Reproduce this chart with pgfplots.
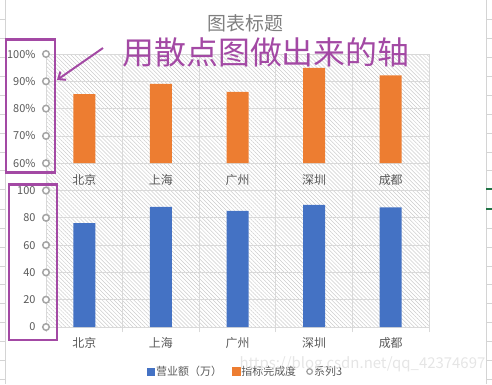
\documentclass[border=0pt]{standalone}
\usepackage{pgfplots}
\pgfplotsset{compat=1.18}
\usepackage{fontspec}
\setmainfont{Noto Sans CJK SC}
\usetikzlibrary{patterns.meta,arrows.meta}
\definecolor{barblue}{HTML}{4472C4}
\definecolor{barorange}{HTML}{ED7D31}
\definecolor{markgray}{HTML}{A5A5A5}
\definecolor{txtgray}{HTML}{595959}
\definecolor{gridgray}{HTML}{D9D9D9}
\definecolor{purp}{HTML}{A349A4}
\definecolor{titlegray}{HTML}{7F7F7F}
\definecolor{cellgray}{HTML}{D4D4D4}
\definecolor{xlgreen}{HTML}{217346}
\begin{document}
\begin{tikzpicture}[x=1bp,y=1bp]
\path[use as bounding box] (0,0) rectangle (492,-384);
% spreadsheet cell borders
\draw[cellgray, line width=0.8bp] (486,0) -- (486,-384);
\draw[cellgray, line width=0.8bp] (5,0) -- (5,-384);
\foreach \yy in {19,38,57,76,95,114,133,152,170.5,228,247,266,284.5,303.5,322.5,341,360,379}{
  \draw[cellgray, line width=0.8bp] (486,-\yy) -- (492,-\yy);
  \draw[cellgray, line width=0.8bp] (0,-\yy) -- (5,-\yy);
}
\draw[xlgreen, line width=1.5bp] (486,-189) -- (492,-189);
\draw[xlgreen, line width=1.5bp] (486,-209) -- (492,-209);
\draw[cellgray, line width=0.8bp] (0,-189) -- (5,-189);
\draw[cellgray, line width=0.8bp] (0,-209) -- (5,-209);

\begin{axis}[
  at={(46bp,-327bp)}, anchor=south west,
  scale only axis, width=383bp, height=273bp,
  xmin=0, xmax=5, ymin=0, ymax=200,
  axis background/.style={pattern={Lines[angle=-45,distance=2.8bp,line width=0.5bp]}, pattern color=black!20},
  axis line style={draw=gridgray, line width=0.8bp},
  xtick={0.5,1.5,2.5,3.5,4.5},
  xticklabels={北京,上海,广州,深圳,成都},
  minor xtick={0,1,2,3,4,5},
  ytick={0,20,...,200},
  yticklabels={0,20,40,60,80,100,60\%,70\%,80\%,90\%,100\%},
  xminorgrids=true, xmajorgrids=false, ymajorgrids=true,
  grid style={draw=gridgray, line width=0.8bp},
  minor grid style={draw=gridgray, line width=0.8bp},
  major tick length=0pt,
  minor tick length=5bp,
  tick align=outside,
  xtick pos=lower, ytick pos=left,
  minor x tick style={draw=gridgray, line width=0.8bp},
  xticklabel style={font=\fontsize{12}{14}\selectfont, text=txtgray, yshift=-7bp},
  yticklabel style={font=\fontsize{11}{13}\selectfont, text=txtgray, xshift=-7bp},
  clip mode=individual,
  legend columns=-1,
  legend style={draw=none, fill=none, at={(0.52,-0.163)}, anchor=center,
    font=\fontsize{11}{13}\selectfont, text=txtgray,
    /tikz/every even column/.append style={column sep=9bp},
    nodes={inner sep=1bp}},
  legend cell align=left,
]
\addplot[ybar, bar width=22bp, fill=barblue, draw=none,
  legend image code/.code={\fill[barblue] (0bp,-4bp) rectangle (8bp,4bp);}]
  coordinates {(0.5,76.1) (1.5,88.0) (2.5,85.0) (3.5,89.4) (4.5,87.7)};
\addlegendentry{营业额（万）}
\addlegendimage{legend image code/.code={\fill[barorange] (0bp,-4bp) rectangle (8bp,4bp);}}
\addlegendentry{指标完成度}
\addplot[only marks, mark=*, mark size=3.3bp,
  mark options={draw=markgray, fill=white, line width=1.5bp},
  legend image code/.code={\draw[markgray, fill=white, line width=1.3bp] (3.5bp,0bp) circle (2.8bp);}]
  coordinates {(0,0) (0,20) (0,40) (0,60) (0,80) (0,100) (0,120) (0,140) (0,160) (0,180) (0,200)};
\addlegendentry{系列3}
\end{axis}

\begin{axis}[
  at={(46bp,-163bp)}, anchor=south west,
  scale only axis, width=383bp, height=109bp,
  xmin=0, xmax=5, ymin=60, ymax=100,
  axis line style={draw=none},
  ytick=\empty,
  xtick={0.5,1.5,2.5,3.5,4.5},
  xticklabels={北京,上海,广州,深圳,成都},
  major tick length=0pt,
  xticklabel style={font=\fontsize{12}{14}\selectfont, text=txtgray, yshift=-8bp},
]
\addplot[ybar, bar width=22bp, fill=barorange, draw=none]
  coordinates {(0.5,85.3) (1.5,89.0) (2.5,86.1) (3.5,94.9) (4.5,92.2)};
\end{axis}

% title and annotations
\node[text=titlegray, font=\fontsize{19}{20}\selectfont] at (245.5,-23) {图表标题};
\node[text=black!10, font=\fontsize{15}{16}\selectfont, anchor=west] at (236,-364) {https://blog.csdn.net/qq\_42374697};
\node[text=purp, font=\fontsize{32}{34}\selectfont] at (266,-52) {用散点图做出来的轴};
\draw[purp, line width=2bp, -{Straight Barb[length=6bp,width=10bp]}] (103,-48) -- (57,-80);
\draw[purp, line width=2.2bp] (6,-39.5) rectangle (55,-172.5);
\draw[purp, line width=2.2bp] (9,-184.5) rectangle (57,-340);
\end{tikzpicture}
\end{document}
